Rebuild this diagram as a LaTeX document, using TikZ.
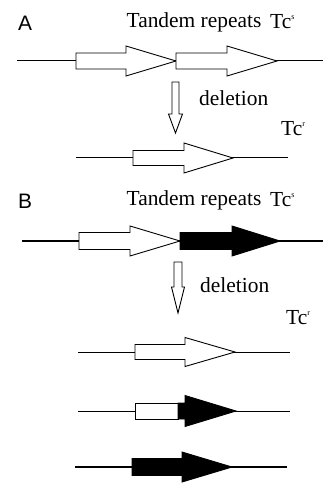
\documentclass[tikz,border=0pt]{standalone}
\usepackage{fontspec}
\setmainfont{Liberation Serif}
\newfontfamily\panelsans{Liberation Sans}
\newcommand{\geneshape}[7]{% x0, y, rect length, head length, rect half-height, head half-height, style
  \draw[#7] (#1,#2-#5) -- ++(#3,0) -- ++(0,#5-#6) -- (#1+#3+#4,#2) -- (#1+#3,#2+#6) -- ++(0,#5-#6) -- (#1,#2+#5) -- cycle;}
\newcommand{\downshape}[6]{% x centre, y top, y head, y tip, shaft half-width, head half-width
  \draw[outline] (#1-#5,#2) -- (#1+#5,#2) -- (#1+#5,#3) -- (#1+#6,#3) -- (#1,#4) -- (#1-#6,#3) -- (#1-#5,#3) -- cycle;}
\newcommand{\Tcs}[1]{Tc\raisebox{0.95ex}{\fontsize{8}{8}\selectfont #1}}
\begin{document}
\begin{tikzpicture}[x=1bp,y=-1bp,
  outline/.style={draw=black,line width=0.9bp,fill=white,line join=miter},
  solid/.style={draw=black,line width=0.9bp,fill=black,line join=miter},
  dna/.style={line width=1bp},
  dnathick/.style={line width=1.6bp},
  serif/.style={font=\fontsize{21.5}{23}\selectfont,inner sep=0pt},
  panel/.style={font=\panelsans\fontsize{21}{23}\selectfont,inner sep=0pt}]
\useasboundingbox (0,0) rectangle (323,483);
% ---- panel A ----
\node[panel] (A) at (25,23) {A};
\node[serif] (tandemA) at (194,22) {Tandem repeats};
\node[serif,anchor=west] (tcsA) at (270,22) {\Tcs{s}};
\coordinate (a1l) at (17,61); \coordinate (a1r) at (323,61);
\draw[dna] (a1l) -- (a1r);
\geneshape{76}{61}{50}{50}{8}{15}{outline}
\geneshape{176}{61}{51}{50}{8}{15}{outline}
\downshape{175.5}{82}{114}{133}{3.5}{7}
\node[serif,anchor=west] (delA) at (199,98) {deletion};
\node[serif,anchor=west] (tcrA) at (281,129) {\Tcs{r}};
\coordinate (a2l) at (76,158); \coordinate (a2r) at (288,158);
\draw[dna] (a2l) -- (a2r);
\geneshape{133}{158}{51}{49}{7.5}{15}{outline}
% ---- panel B ----
\node[panel] (B) at (25,201) {B};
\node[serif] (tandemB) at (194,200) {Tandem repeats};
\node[serif,anchor=west] (tcsB) at (270,200) {\Tcs{s}};
\coordinate (b1l) at (22,241); \coordinate (b1r) at (323,241);
\draw[dnathick] (b1l) -- (b1r);
\geneshape{79}{241}{51}{50}{8.5}{15}{outline}
\geneshape{180}{241}{52}{48}{8.5}{15}{solid}
\downshape{178}{262}{287}{313}{4}{6.5}
\node[serif,anchor=west] (delB) at (200,285) {deletion};
\node[serif,anchor=west] (tcrB) at (286,318) {\Tcs{r}};
\coordinate (b2l) at (78,352); \coordinate (b2r) at (290,352);
\draw[dna] (b2l) -- (b2r);
\geneshape{135}{352}{50}{50}{7.5}{14.5}{outline}
\coordinate (b3l) at (78,411); \coordinate (b3r) at (290,411);
\draw[dna] (b3l) -- (b3r);
\draw[outline] (135,403) rectangle (178,419);
\geneshape{178}{411}{7}{51}{8}{15.5}{solid}
\coordinate (b4l) at (75,467); \coordinate (b4r) at (287,467);
\draw[dnathick] (b4l) -- (b4r);
\geneshape{132}{467}{50}{50}{8.5}{15}{solid}
\end{tikzpicture}
\end{document}
